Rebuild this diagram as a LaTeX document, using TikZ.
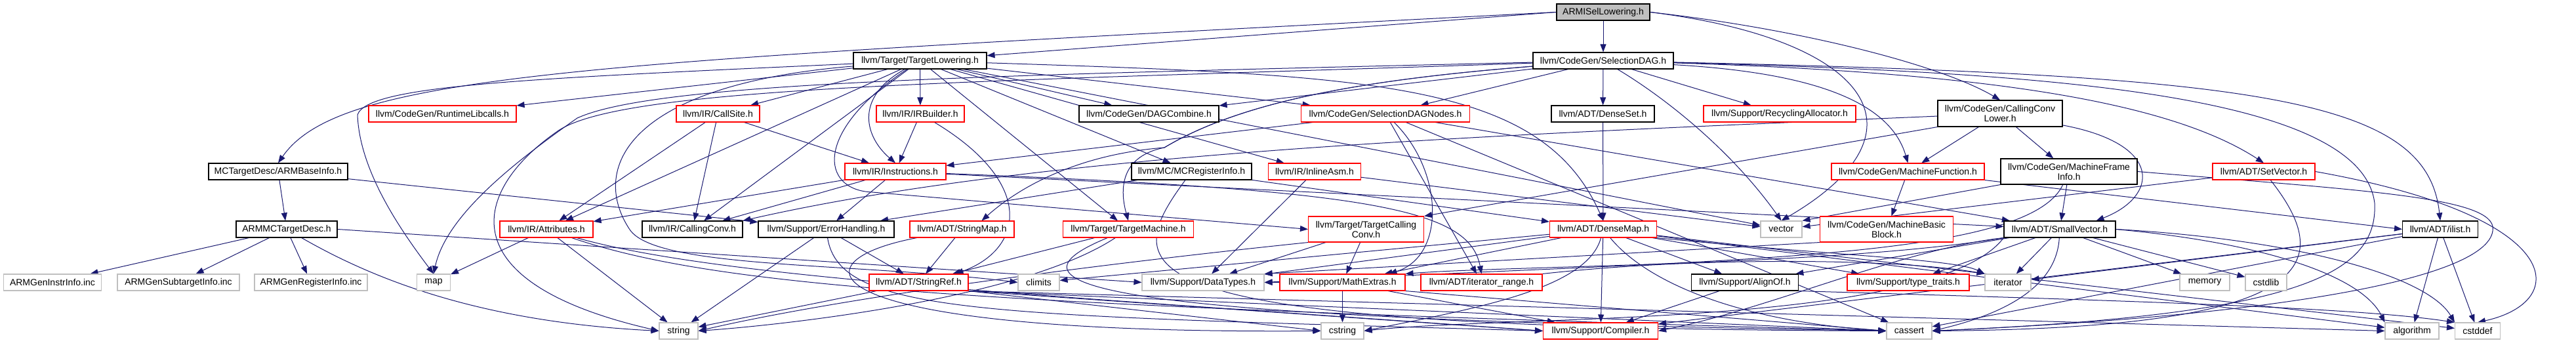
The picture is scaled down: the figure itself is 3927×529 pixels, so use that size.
\documentclass[tikz,border=0pt]{standalone}
\usepackage{fontspec}
\setmainfont{Liberation Sans}
\usetikzlibrary{arrows.meta,backgrounds}
\definecolor{edgec}{HTML}{191970}
\definecolor{grayb}{HTML}{BFBFBF}
\definecolor{redb}{HTML}{FF0000}
\tikzset{
 nbase/.style={draw, fill=white, line width=1.1pt, minimum height=25pt, inner sep=0pt,
   font=\fontsize{14}{15}\selectfont, align=center},
 nred/.style={nbase, draw=redb},
 nblk/.style={nbase, draw=black},
 ngry/.style={nbase, draw=grayb},
 nroot/.style={nbase, draw=black, fill=grayb},
 dep/.style={draw=edgec, line width=1pt, -{Triangle[length=12pt,width=9pt]}},
}
\begin{document}
\begin{tikzpicture}[x=1pt,y=-1pt]
\useasboundingbox (0,0) rectangle (3927,529);
% row 0
\node[nroot, minimum width=142pt] (isel) at (2444,18.5) {ARMISelLowering.h};
% row 1
\node[nblk, minimum width=203pt] (tl) at (1402.5,92.5) {llvm/Target/TargetLowering.h};
\node[nblk, minimum width=214pt] (sdag) at (2444,92.5) {llvm/CodeGen/SelectionDAG.h};
% row 2
\node[nred, minimum width=225pt] (rtlib) at (674.5,173.5) {llvm/CodeGen/RuntimeLibcalls.h};
\node[nred, minimum width=127pt] (callsite) at (1094.5,173.5) {llvm/IR/CallSite.h};
\node[nred, minimum width=134pt] (irb) at (1403,173.5) {llvm/IR/IRBuilder.h};
\node[nblk, minimum width=213pt] (dagc) at (1751.5,173.5) {llvm/CodeGen/DAGCombine.h};
\node[nred, minimum width=257pt] (sdn) at (2112,173.5) {llvm/CodeGen/SelectionDAGNodes.h};
\node[nblk, minimum width=157pt] (dset) at (2443.5,173.5) {llvm/ADT/DenseSet.h};
\node[nred, minimum width=232pt] (recyc) at (2713,173.5) {llvm/Support/RecyclingAllocator.h};
\node[nblk, minimum width=190pt, minimum height=40pt] (ccl) at (3049,173) {llvm/CodeGen/CallingConv\\Lower.h};
% row 3
\node[nblk, minimum width=212pt] (abi) at (424,261.5) {MCTargetDesc/ARMBaseInfo.h};
\node[nred, minimum width=154pt] (instr) at (1365,261.5) {llvm/IR/Instructions.h};
\node[nblk, minimum width=183pt] (mcri) at (1816.5,261.5) {llvm/MC/MCRegisterInfo.h};
\node[nred, minimum width=141pt] (iasm) at (2004,261.5) {llvm/IR/InlineAsm.h};
\node[nred, minimum width=233pt] (mf) at (2908.5,261.5) {llvm/CodeGen/MachineFunction.h};
\node[nblk, minimum width=208pt, minimum height=39pt] (mfi) at (3154,261.5) {llvm/CodeGen/MachineFrame\\Info.h};
\node[nred, minimum width=156pt] (setv) at (3451,261.5) {llvm/ADT/SetVector.h};
% row 4
\node[nblk, minimum width=154pt] (armmc) at (437,349.5) {ARMMCTargetDesc.h};
\node[nred, minimum width=142pt] (attr) at (833,349.5) {llvm/IR/Attributes.h};
\node[nblk, minimum width=153pt] (cconv) at (1055.5,349.5) {llvm/IR/CallingConv.h};
\node[nblk, minimum width=207pt] (errh) at (1259.5,349.5) {llvm/Support/ErrorHandling.h};
\node[nred, minimum width=159pt] (smap) at (1466.5,349.5) {llvm/ADT/StringMap.h};
\node[nred, minimum width=199pt] (tm) at (1720,349.5) {llvm/Target/TargetMachine.h};
\node[nred, minimum width=176pt, minimum height=39pt] (tcc) at (2082.5,349.5) {llvm/Target/TargetCalling\\Conv.h};
\node[nred, minimum width=163pt] (dmap) at (2444,349.5) {llvm/ADT/DenseMap.h};
\node[ngry, minimum width=63pt] (vec) at (2715.5,349.5) {vector};
\node[nred, minimum width=203pt, minimum height=39pt] (mbb) at (2876,349.5) {llvm/CodeGen/MachineBasic\\Block.h};
\node[nblk, minimum width=170pt] (svec) at (3140,349.5) {llvm/ADT/SmallVector.h};
\node[nblk, minimum width=115pt] (ilist) at (3720,349.5) {llvm/ADT/ilist.h};
% row 5
\node[ngry, minimum width=149pt] (gii) at (80,430.5) {ARMGenInstrInfo.inc};
\node[ngry, minimum width=186pt] (gsi) at (272,430.5) {ARMGenSubtargetInfo.inc};
\node[ngry, minimum width=172pt] (gri) at (474,430.5) {ARMGenRegisterInfo.inc};
\node[ngry, minimum width=51pt] (map) at (661,430.5) {map};
\node[nred, minimum width=151pt] (sref) at (1400.5,430.5) {llvm/ADT/StringRef.h};
\node[ngry, minimum width=63pt] (climits) at (1583.5,430.5) {climits};
\node[ngry, minimum width=186pt] (dtypes) at (1834,430.5) {llvm/Support/DataTypes.h};
\node[nred, minimum width=191pt] (mathx) at (2046.5,430.5) {llvm/Support/MathExtras.h};
\node[nred, minimum width=185pt] (itr) at (2258.5,430.5) {llvm/ADT/iterator\_range.h};
\node[nblk, minimum width=163pt] (alignof) at (2660,430.5) {llvm/Support/AlignOf.h};
\node[nred, minimum width=186pt] (ttraits) at (2909,430.5) {llvm/Support/type\_traits.h};
\node[ngry, minimum width=70pt] (iter) at (3061,430.5) {iterator};
\node[ngry, minimum width=76pt] (memory) at (3361,430.5) {memory};
\node[ngry, minimum width=63pt] (cstdlib) at (3454.5,430.5) {cstdlib};
% row 6
\node[ngry, minimum width=59pt] (string) at (1034.5,504.5) {string};
\node[ngry, minimum width=65pt] (cstring) at (2046.5,504.5) {cstring};
\node[nred, minimum width=175pt] (compiler) at (2440,504.5) {llvm/Support/Compiler.h};
\node[ngry, minimum width=69pt] (cassert) at (2910.5,504.5) {cassert};
\node[ngry, minimum width=82pt] (algo) at (3677,504.5) {algorithm};
\node[ngry, minimum width=69pt] (cstddef) at (3777,504.5) {cstddef};
% waypoints
\coordinate (wm1) at (545,175);
\coordinate (wc1) at (960,350);
\coordinate (wt1) at (1330,293);
\coordinate (wsc) at (3620,310);
\coordinate (wsm) at (880,180);
\coordinate (wss) at (850,200);
\coordinate (wst) at (1775,225);
\coordinate (wfc) at (3800,345);
\begin{scope}[on background layer]
% root
\draw[dep] (isel) -- (sdag);
\draw[dep] (isel.west) -- (tl);
\draw[dep] (isel.west) .. controls (900,95) and (520,110) .. (abi.north);
\draw[dep] (isel.east) .. controls (2750,45) and (2960,100) .. (ccl.north);
\draw[dep] (isel.east) .. controls (2850,60) and (2950,200) .. (vec.north);
% ARM
\draw[dep] (abi) -- (armmc);
\draw[dep] (abi) -- (errh);
\draw[dep] (armmc) -- (gii);
\draw[dep] (armmc) -- (gsi);
\draw[dep] (armmc) -- (gri);
\draw[dep] (armmc.east) -- (dtypes.west);
\draw[dep] (armmc) .. controls (560,420) and (720,490) .. (string.west);
% TargetLowering
\draw[dep] (tl) -- (rtlib);
\draw[dep] (tl) -- (callsite);
\draw[dep] (tl) -- (irb);
\draw[dep] (tl) -- (dagc);
\draw[dep] (tl) -- (sdn);
\draw[dep] (tl) -- (mcri);
\draw[dep] (tl) -- (iasm);
\draw[dep] (tl) -- (tm);
\draw[dep] (tl) -- (attr);
\draw[dep] (tl) -- (cconv);
\draw[dep] (tl) -- (vec);
\draw[dep] (tl) .. controls (1300,150) and (1320,210) .. (instr.north);
\draw[dep] (tl) .. controls (2100,115) and (2350,125) .. (dmap.north);
\draw[dep] (tl) .. controls (800,120) and (560,130) .. (wm1) .. controls (548,260) and (610,350) .. (map.north);
\draw[dep] (tl) .. controls (950,130) and (900,260) .. (wc1) .. controls (1000,410) and (1300,400) .. (climits.west);
\draw[dep] (tl) .. controls (1240,200) and (1250,290) .. (wt1) -- (tcc.west);
% SelectionDAG
\draw[dep] (sdag) -- (dset);
\draw[dep] (sdag) -- (sdn);
\draw[dep] (sdag) -- (recyc);
\draw[dep] (sdag) -- (dagc);
\draw[dep] (sdag) .. controls (2540,150) and (2640,230) .. (vec.north);
\draw[dep] (sdag) .. controls (2750,110) and (2880,150) .. (mf.north);
\draw[dep] (sdag) .. controls (3000,110) and (3300,150) .. (setv.north);
\draw[dep] (sdag) .. controls (3450,115) and (3700,150) .. (ilist.north);
\draw[dep] (sdag) .. controls (3100,110) and (3600,140) .. (wsc) .. controls (3625,420) and (3500,480) .. (cassert.east);
\draw[dep] (sdag) .. controls (1500,115) and (1000,125) .. (wsm) .. controls (780,250) and (680,330) .. (map.north);
\draw[dep] (sdag) .. controls (1500,125) and (950,130) .. (wss) .. controls (720,290) and (680,430) .. (string.west);
\draw[dep] (sdag) .. controls (2100,120) and (1900,150) .. (wst) .. controls (1650,235) and (1560,280) .. ([xshift=30pt]smap.north);
\draw[dep] (sdag) .. controls (2100,120) and (1900,150) .. (wst) .. controls (1700,240) and (1710,300) .. (tm.north);
% SelectionDAGNodes
\draw[dep] (sdn) -- (instr);
\draw[dep] (sdn) -- (itr);
\draw[dep] (sdn) -- (svec);
\draw[dep] (sdn) -- (cassert);
\draw[dep] (sdn) .. controls (2200,260) and (2205,390) .. ([xshift=-25pt]mathx.north east);
% CallSite, IRBuilder
\draw[dep] (callsite) -- (attr);
\draw[dep] (callsite) -- (cconv);
\draw[dep] (callsite) -- (instr);
\draw[dep] (irb) -- (instr);
\draw[dep] (irb) .. controls (1580,280) and (1560,380) .. ([xshift=-20pt]sref.north east);
% Instructions
\draw[dep] (instr) -- (attr);
\draw[dep] (instr) -- (cconv);
\draw[dep] (instr) -- (errh);
\draw[dep] (instr) -- (svec);
\draw[dep] (instr) .. controls (2100,290) and (2240,320) .. (itr.north);
% MCRegisterInfo, InlineAsm
\draw[dep] (mcri) -- (dmap);
\draw[dep] (mcri) -- (errh);
\draw[dep] (mcri) .. controls (1700,420) and (1700,500) .. (cassert.west);
\draw[dep] (iasm) -- (vec);
\draw[dep] (iasm) -- (dtypes);
% MachineFunction, FrameInfo, CallingConvLower
\draw[dep] (mf) -- (mbb);
\draw[dep] (mf.south east) -- (ilist.west);
\draw[dep] (mfi) -- (svec);
\draw[dep] (mfi.south west) -- (vec.north east);
\draw[dep] (mfi) .. controls (3090,400) and (2600,395) .. (dtypes.east);
\draw[dep] (mfi.east) .. controls (3600,290) and (3790,300) .. (wfc) .. controls (3810,420) and (3500,480) .. (cassert.east);
\draw[dep] (ccl) -- (mf);
\draw[dep] (ccl) -- (mfi);
\draw[dep] (ccl.south west) -- (tcc.north east);
\draw[dep] (ccl) .. controls (2300,205) and (1600,230) .. (cconv.north east);
\draw[dep] (ccl) .. controls (3300,220) and (3290,300) .. ([xshift=-30pt]svec.north east);
% SetVector
\draw[dep] (setv) -- (vec);
\draw[dep] (setv) .. controls (3560,400) and (3540,500) .. (cassert.east);
\draw[dep] (setv.east) .. controls (3915,330) and (3920,460) .. (cstddef.north);
% Attributes, ErrorHandling, StringMap, TargetMachine, TargetCallingConv
\draw[dep] (attr) -- (map);
\draw[dep] (attr) -- (string);
\draw[dep] (attr) .. controls (1100,440) and (1500,465) .. (cassert.west);
\draw[dep] (attr) .. controls (1100,425) and (1600,450) .. (compiler.west);
\draw[dep] (errh) -- (string);
\draw[dep] (errh) -- (sref);
\draw[dep] (errh) .. controls (1280,480) and (1500,480) .. (compiler.west);
\draw[dep] (smap) -- (sref);
\draw[dep] (smap) .. controls (1200,400) and (1230,510) .. (cstring.west);
\draw[dep] (tm) -- (sref);
\draw[dep] (tm) .. controls (1560,455) and (1200,495) .. (string.east);
\draw[dep] (tm) .. controls (1500,440) and (1700,485) .. (cassert.west);
\draw[dep] (tcc) -- (dtypes);
\draw[dep] (tcc) -- (mathx);
\draw[dep] (tcc.south west) .. controls (1700,400) and (1300,450) .. (string.east);
% DenseSet, DenseMap, MachineBasicBlock
\draw[dep] (dset) -- (dmap);
\draw[dep] (dmap) -- (dtypes);
\draw[dep] (dmap) -- (mathx);
\draw[dep] (dmap) -- (compiler);
\draw[dep] (dmap) -- (alignof);
\draw[dep] (dmap) -- (ttraits);
\draw[dep] (dmap) -- (climits);
\draw[dep] (dmap) -- (algo);
\draw[dep] (dmap) -- (cstddef);
\draw[dep] (dmap) .. controls (2420,440) and (2250,470) .. (cstring.east);
\draw[dep] (dmap) .. controls (2510,430) and (2650,490) .. (cassert.west);
\draw[dep] (dmap.south east) .. controls (2800,390) and (2980,395) .. (iter.north west);
\draw[dep] (mbb.south west) -- (dtypes.north east);
% SmallVector
\draw[dep] (svec) -- (alignof);
\draw[dep] (svec) -- (ttraits);
\draw[dep] (svec) -- (iter);
\draw[dep] (svec) -- (memory);
\draw[dep] (svec) -- (cstdlib);
\draw[dep] (svec.east) .. controls (3450,370) and (3600,420) .. (algo.north west);
\draw[dep] (svec.east) .. controls (3500,365) and (3700,420) .. (cstddef.north west);
\draw[dep] (svec) .. controls (3135,440) and (3050,480) .. (cassert.east);
\draw[dep] (svec.south west) .. controls (2900,380) and (2700,470) .. (compiler.east);
\draw[dep] (svec.south west) .. controls (2800,405) and (2300,405) .. (mathx.north east);
\draw[dep] (svec.south west) .. controls (2950,500) and (2300,480) .. (cstring.east);
% ilist
\draw[dep] (ilist) -- (iter);
\draw[dep] (ilist) -- (algo);
\draw[dep] (ilist) -- (cstddef);
\draw[dep] (ilist) -- (cassert);
\draw[dep] (ilist) -- (compiler);
% StringRef, MathExtras, iterator_range, AlignOf
\draw[dep] (sref) -- (string);
\draw[dep] (sref.south east) -- (algo.west);
\draw[dep] (sref.south east) -- (cassert.west);
\draw[dep] (sref.south east) -- (cstring.west);
\draw[dep] (sref.south east) -- (compiler.west);
\draw[dep] (mathx) -- (cstring);
\draw[dep] (mathx) -- (compiler);
\draw[dep] (mathx) -- (dtypes);
\draw[dep] (mathx.south east) -- (cassert.west);
\draw[dep] (itr.north east) .. controls (2600,390) and (2900,395) .. (iter.north west);
\draw[dep] (alignof) -- (compiler);
\draw[dep] (alignof.south east) .. controls (3300,460) and (3600,470) .. (cstddef.north west);
\end{scope}
\end{tikzpicture}
\end{document}
